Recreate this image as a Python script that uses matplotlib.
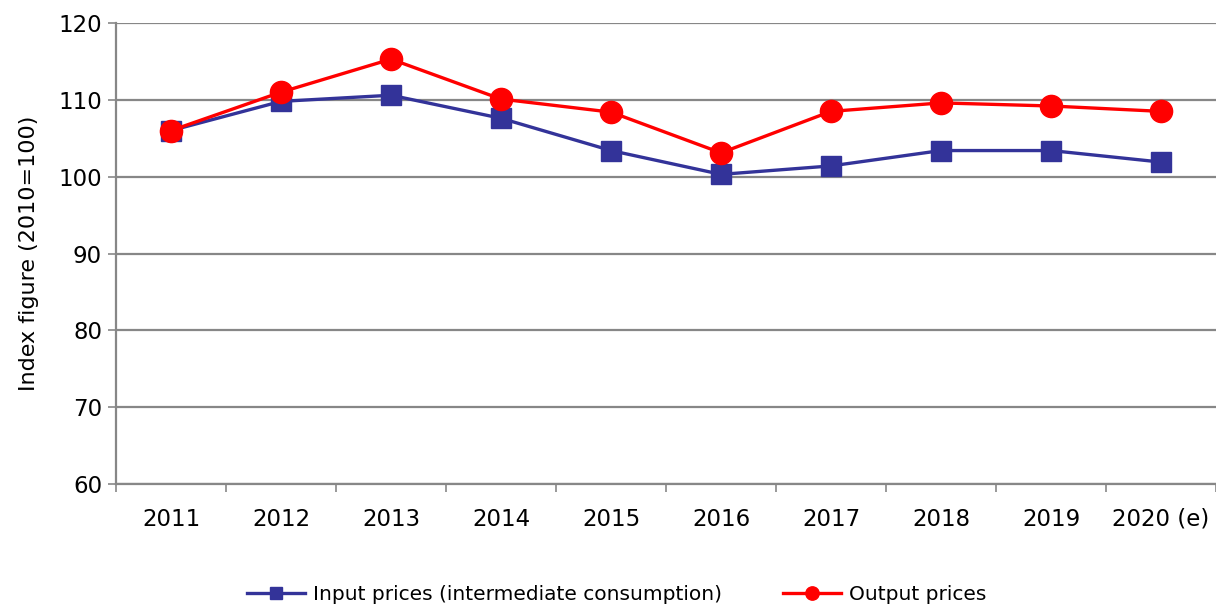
import matplotlib
matplotlib.use('Agg')
import matplotlib.pyplot as plt

years = ['2011', '2012', '2013', '2014', '2015', '2016', '2017', '2018', '2019', '2020 (e)']
input_prices = [106.0, 109.8, 110.6, 107.6, 103.4, 100.3, 101.4, 103.4, 103.4, 101.9]
output_prices = [106.0, 111.0, 115.3, 110.1, 108.4, 103.1, 108.5, 109.6, 109.2, 108.5]

plt.rcParams['font.family'] = ['DejaVu Sans']

fig = plt.figure(figsize=(12.16, 6.07), dpi=100)
ax = fig.add_axes([0.0954, 0.2026, 0.9046, 0.7595])

x = list(range(len(years)))
ax.plot(x, input_prices, color='#333399', marker='s', markersize=15, linewidth=2.4,
        label='Input prices (intermediate consumption)', zorder=3)
ax.plot(x, output_prices, color='#ff0000', marker='o', markersize=16, linewidth=2.4,
        label='Output prices', zorder=4)

ax.set_ylim(60, 120)
ax.set_yticks(range(60, 121, 10))
ax.set_xlim(-0.5, len(years) - 0.5)
ax.grid(axis='y', color='#878787', linewidth=1.6)
ax.set_axisbelow(True)

# category axis: ticks between labels
ax.set_xticks([i - 0.5 for i in range(len(years) + 1)])
ax.set_xticklabels([])
ax.set_xticks(x, minor=True)
ax.set_xticklabels(years, minor=True, fontsize=16.5)
for lbl in ax.get_xticklabels(minor=True):
    lbl.set_verticalalignment('baseline')
ax.tick_params(axis='x', which='major', length=6, width=1.2, color='#878787')
ax.tick_params(axis='x', which='minor', length=0, pad=30)
ax.tick_params(axis='y', length=6, width=1.2, color='#878787', labelsize=16.5, pad=4)

for side in ['top', 'right']:
    ax.spines[side].set_visible(False)
for side in ['left', 'bottom']:
    ax.spines[side].set_color('#878787')
    ax.spines[side].set_linewidth(1.6)

ax.set_ylabel('Index figure (2010=100)', fontsize=16, labelpad=14)

ax.legend(loc='center', bbox_to_anchor=(0.5 - 0.0954 / 2 / 0.9046 + 0.008, -0.24), ncol=2,
          frameon=False, fontsize=14.5, handlelength=2.9, markerscale=0.6,
          columnspacing=3.0, handletextpad=0.4)

fig.savefig('out.png', dpi=100)
